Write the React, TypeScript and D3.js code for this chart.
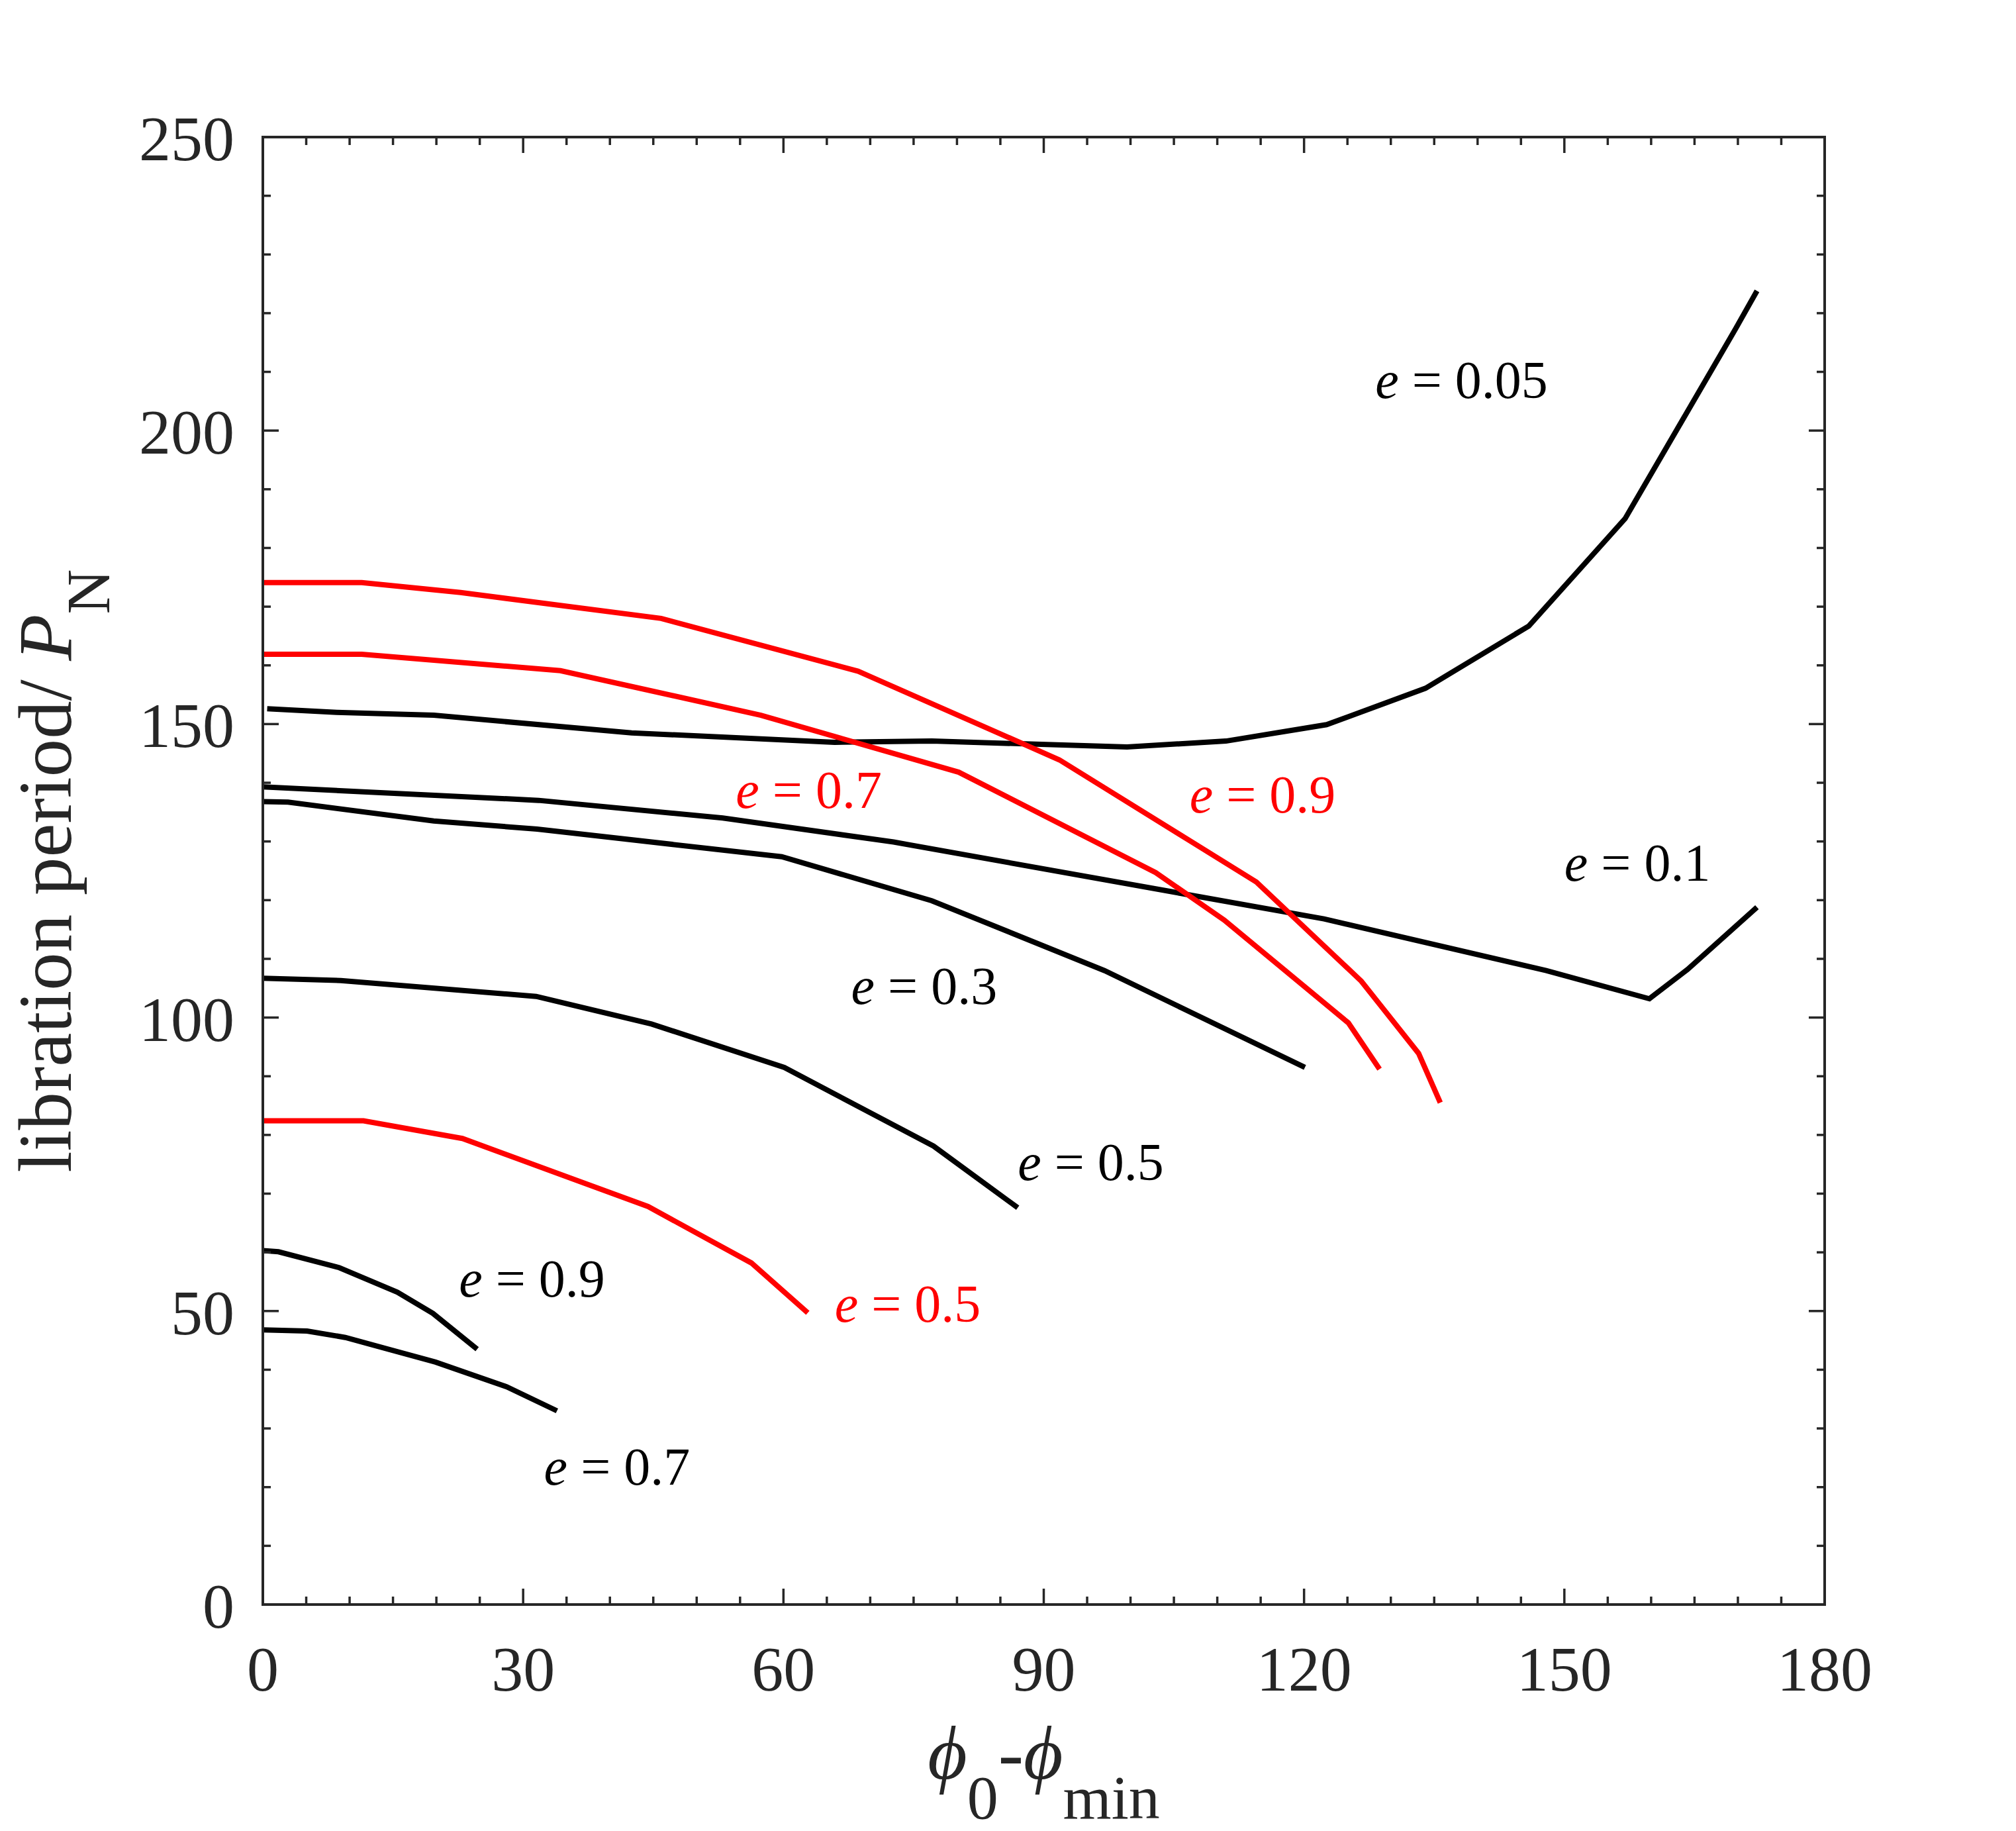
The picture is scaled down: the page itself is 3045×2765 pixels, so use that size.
import * as d3 from "d3";
import { useEffect, useRef } from "react";

type Series = {
  phi: number[];
  period: number[];
  color: string;
};

// black curves
const e005Phi = [0.5, 8.5, 19.7, 42.5, 65.9, 77.1, 99.6, 111.0, 122.6, 134.0, 145.9, 157.0, 169.8, 172.2];
const e005Period = [152.6, 152.0, 151.5, 148.5, 146.9, 147.1, 146.1, 147.1, 149.9, 156.1, 166.7, 185.0, 217.5, 223.8];

const e01Phi = [0, 31.8, 53.0, 72.7, 122.3, 147.9, 159.8, 164.2, 172.2];
const e01Period = [139.3, 137.0, 134.0, 129.9, 116.8, 108.0, 103.2, 108.2, 118.8];

const e03Phi = [0, 2.9, 19.7, 31.6, 59.8, 77.1, 97.0, 120.1];
const e03Period = [136.8, 136.7, 133.5, 132.1, 127.4, 119.9, 108.0, 91.5];

const e05Phi = [0, 9.0, 31.5, 44.8, 60.1, 77.3, 87.0];
const e05Period = [106.7, 106.3, 103.6, 98.9, 91.5, 78.1, 67.6];

const e09Phi = [0, 1.8, 8.8, 15.5, 19.6, 24.7];
const e09Period = [60.3, 60.1, 57.4, 53.2, 49.6, 43.5];

const e07Phi = [0, 5.1, 9.5, 19.9, 28.1, 33.9];
const e07Period = [46.8, 46.6, 45.5, 41.3, 37.1, 33.0];

// red curves
const r09Phi = [0, 11.4, 22.8, 45.9, 68.6, 91.8, 114.5, 126.6, 133.2, 135.7];
const r09Period = [174.1, 174.1, 172.4, 168.0, 159.0, 143.9, 123.1, 106.2, 93.9, 85.5];

const r07Phi = [0, 11.4, 34.3, 57.4, 80.2, 102.9, 110.8, 125.1, 128.7];
const r07Period = [161.9, 161.9, 159.1, 151.5, 141.8, 124.7, 116.6, 99.1, 91.2];

const r05Phi = [0, 11.6, 23.0, 44.4, 56.3, 62.8];
const r05Period = [82.4, 82.4, 79.4, 67.8, 58.2, 49.7];

const xTicks = [0, 30, 60, 90, 120, 150, 180];
const yTicks = [0, 50, 100, 150, 200, 250];

// curve labels: value text, colour, anchor in data space
const labelText = ["0.05", "0.1", "0.9", "0.7", "0.3", "0.5", "0.5", "0.9", "0.7"];
const labelColor = ["black", "black", "red", "red", "black", "black", "red", "black", "black"];
const labelPhi = [128.2, 150.0, 106.8, 54.5, 67.8, 87.0, 65.9, 22.6, 32.4];
const labelPeriod = [205.5, 123.3, 134.9, 135.7, 102.3, 72.3, 48.2, 52.5, 20.4];

const series: Series[] = [
  { phi: e005Phi, period: e005Period, color: "black" },
  { phi: e01Phi, period: e01Period, color: "black" },
  { phi: e03Phi, period: e03Period, color: "black" },
  { phi: e05Phi, period: e05Period, color: "black" },
  { phi: e09Phi, period: e09Period, color: "black" },
  { phi: e07Phi, period: e07Period, color: "black" },
  { phi: r09Phi, period: r09Period, color: "#ff0000" },
  { phi: r07Phi, period: r07Period, color: "#ff0000" },
  { phi: r05Phi, period: r05Period, color: "#ff0000" },
];

const App: React.FC = () => {
  const chartRef = useRef<SVGSVGElement | null>(null);

  useEffect(() => {
    if (!chartRef.current) return;
    const svg = d3.select(chartRef.current);
    svg.selectAll("*").remove();

    const width = 3045;
    const height = 2765;
    const margin = { top: 207, right: 289, bottom: 342, left: 397 };
    const innerWidth = width - margin.left - margin.right;
    const innerHeight = height - margin.top - margin.bottom;
    const axisColor = "#262626";
    const font = "'Liberation Serif', 'Times New Roman', serif";

    svg.attr("width", width).attr("height", height);
    svg.append("rect").attr("width", width).attr("height", height).attr("fill", "white");

    const x = d3.scaleLinear().domain([0, 180]).range([0, innerWidth]);
    const y = d3.scaleLinear().domain([0, 250]).range([innerHeight, 0]);

    const g = svg.append("g").attr("transform", `translate(${margin.left},${margin.top})`);

    // data lines
    const line = d3
      .line<[number, number]>()
      .x((d) => x(d[0]))
      .y((d) => y(d[1]));

    series.forEach((s) => {
      const pts = s.phi.map((p, i) => [p, s.period[i]] as [number, number]);
      g.append("path")
        .datum(pts)
        .attr("fill", "none")
        .attr("stroke", s.color)
        .attr("stroke-width", 8)
        .attr("stroke-linejoin", "miter")
        .attr("d", line);
    });

    // box + inward ticks on all four sides
    const majorLen = 24;
    const minorLen = 12;
    const xMinor = d3.range(0, 181, 5);
    const yMinor = d3.range(0, 251, 10);
    const ticks = g.append("g").attr("stroke", axisColor).attr("stroke-width", 3.5);

    xMinor.forEach((v) => {
      const len = v % 30 === 0 ? majorLen : minorLen;
      ticks.append("line").attr("x1", x(v)).attr("x2", x(v)).attr("y1", innerHeight).attr("y2", innerHeight - len);
      ticks.append("line").attr("x1", x(v)).attr("x2", x(v)).attr("y1", 0).attr("y2", len);
    });
    yMinor.forEach((v) => {
      const len = v % 50 === 0 ? majorLen : minorLen;
      ticks.append("line").attr("y1", y(v)).attr("y2", y(v)).attr("x1", 0).attr("x2", len);
      ticks.append("line").attr("y1", y(v)).attr("y2", y(v)).attr("x1", innerWidth).attr("x2", innerWidth - len);
    });

    g.append("rect")
      .attr("width", innerWidth)
      .attr("height", innerHeight)
      .attr("fill", "none")
      .attr("stroke", axisColor)
      .attr("stroke-width", 4);

    // tick labels
    g.selectAll(".xt")
      .data(xTicks)
      .join("text")
      .attr("x", (d) => x(d))
      .attr("y", innerHeight + 130)
      .attr("text-anchor", "middle")
      .attr("font-family", font)
      .attr("font-size", 96)
      .attr("fill", axisColor)
      .text((d) => String(d));

    g.selectAll(".yt")
      .data(yTicks)
      .join("text")
      .attr("x", -43)
      .attr("y", (d) => y(d) + 35)
      .attr("text-anchor", "end")
      .attr("font-family", font)
      .attr("font-size", 96)
      .attr("fill", axisColor)
      .text((d) => String(d));

    // curve labels
    labelText.forEach((t, i) => {
      const txt = g
        .append("text")
        .attr("x", x(labelPhi[i]))
        .attr("y", y(labelPeriod[i]))
        .attr("font-family", font)
        .attr("font-size", 80)
        .attr("fill", labelColor[i] === "red" ? "#ff0000" : "black");
      txt.append("tspan").attr("font-style", "italic").text("e");
      txt.append("tspan").text(` = ${t}`);
    });

    // x axis title
    const xt = svg
      .append("text")
      .attr("x", margin.left + innerWidth / 2)
      .attr("y", 2686)
      .attr("text-anchor", "middle")
      .attr("font-family", font)
      .attr("font-size", 115)
      .attr("fill", axisColor);
    xt.append("tspan").attr("font-style", "italic").text("\u03D5");
    xt.append("tspan").attr("font-size", 94).attr("dy", 60).text("0");
    xt.append("tspan").attr("dy", -60).text("-");
    xt.append("tspan").attr("font-style", "italic").text("\u03D5");
    xt.append("tspan").attr("font-size", 94).attr("dy", 60).text("min");

    // y axis title
    const yt = svg
      .append("text")
      .attr("transform", `translate(107,${margin.top + innerHeight / 2}) rotate(-90)`)
      .attr("text-anchor", "middle")
      .attr("font-family", font)
      .attr("font-size", 115)
      .attr("fill", axisColor);
    yt.append("tspan").text("libration period/ ");
    yt.append("tspan").attr("font-style", "italic").text("P");
    yt.append("tspan").attr("font-size", 94).attr("dy", 58).text("N");
  }, []);

  return (
    <div style={{ position: "absolute", left: 0, top: 0 }}>
      <svg ref={chartRef} style={{ display: "block" }}></svg>
    </div>
  );
};

export default App;
